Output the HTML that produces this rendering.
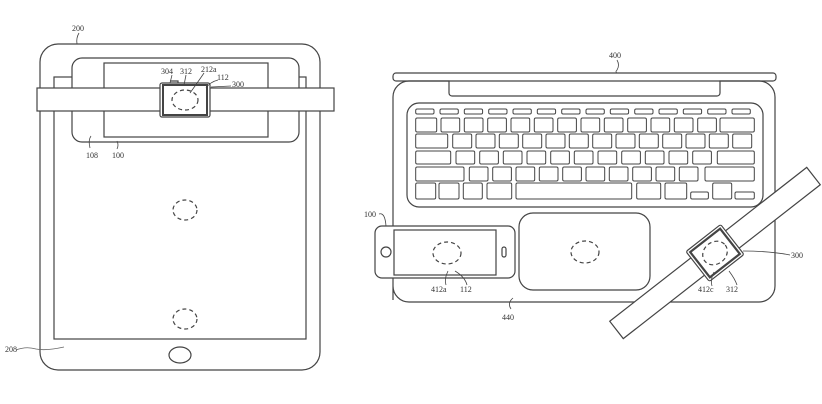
<!DOCTYPE html>
<html><head><meta charset="utf-8"><style>
html,body{margin:0;padding:0;background:#fff;}
svg{display:block}
text{font-family:"Liberation Serif",serif;font-size:8px;fill:#333}
</style></head><body>
<svg width="822" height="404" viewBox="0 0 822 404" xmlns="http://www.w3.org/2000/svg">
<g fill="none" stroke="#444" stroke-width="1.2">
<!-- Tablet -->
<rect x="40" y="44" width="280" height="326" rx="18"/>
<rect x="54" y="77" width="252" height="262"/>
<ellipse cx="180" cy="355" rx="11" ry="8"/>
<ellipse cx="185" cy="210" rx="12" ry="10" stroke-dasharray="4 3"/>
<ellipse cx="185" cy="319" rx="12" ry="10" stroke-dasharray="4 3"/>
<!-- phone on tablet -->
<rect x="72" y="58" width="227" height="84" rx="10" fill="#fff"/>
<rect x="104" y="63" width="164" height="74" fill="#fff"/>
<!-- band -->
<rect x="37" y="88" width="297" height="23" fill="#fff"/>
<rect x="160" y="83" width="50" height="34" rx="2" fill="#fff"/>
<rect x="163" y="85" width="44" height="30" stroke-width="2"/>
<ellipse cx="185" cy="100" rx="13" ry="10" stroke-dasharray="4 3"/>
<path d="M170 81h8v2" />
<!-- leaders left -->
<path d="M79 33 q-3 5 -2 11" stroke-width="0.8"/>
<path d="M16 350 q10 -4 20 -1 q10 2 28 -2" stroke-width="0.8" stroke="#666"/>
<path d="M90 148 q-2 -8 1 -12" stroke-width="0.8"/>
<path d="M117 149 q2 -4 0 -8" stroke-width="0.8"/>
<path d="M172 75 l-2 8" stroke-width="0.8"/>
<path d="M186 75 l-2 10" stroke-width="0.8"/>
<path d="M204 73 q-4 6 -14 20" stroke-width="0.8"/>
<path d="M218 80 q-8 2 -12 8" stroke-width="0.8"/>
<path d="M231 86 l-20 1" stroke-width="0.8"/>

<!-- Laptop -->
<rect x="393" y="73" width="383" height="8" rx="3"/>
<path d="M393 300 V97 a16 16 0 0 1 16 -16 H449 V93 a3 3 0 0 0 3 3 H717 a3 3 0 0 0 3 -3 V81 H759 a16 16 0 0 1 16 16 V286 a16 16 0 0 1 -16 16 H409 a16 16 0 0 1 -16 -16 Z" />
<rect x="407" y="103" width="356" height="104" rx="12"/>
<g id="keys" stroke-width="1"></g>
<rect x="519" y="213" width="131" height="77" rx="14"/>
<ellipse cx="585" cy="252" rx="14" ry="11" stroke-dasharray="4 3"/>
<!-- phone -->
<rect x="375" y="226" width="140" height="52" rx="7" fill="#fff"/>
<rect x="394" y="230" width="102" height="45"/>
<circle cx="386" cy="252" r="5"/>
<rect x="502" y="247" width="4" height="10" rx="2"/>
<ellipse cx="447" cy="253" rx="14" ry="11" stroke-dasharray="4 3"/>
<path d="M617 60 q3 5 0 10 q-2 2 0 3" stroke-width="0.8"/>
<path d="M379 214 q6 -2 7 12" stroke-width="0.8"/>
<path d="M446 285 q-2 -6 2 -14" stroke-width="0.8"/>
<path d="M467 285 q-2 -8 -12 -14" stroke-width="0.8"/>
<path d="M511 309 q-4 -6 2 -11" stroke-width="0.8"/>
<!-- strap & watch -->
<g transform="translate(715 253) rotate(-38)">
<rect x="-125" y="-11" width="250" height="22" fill="#fff"/>
<rect x="-22" y="-19" width="44" height="38" rx="2" fill="#fff"/>
<rect x="-19" y="-16" width="38" height="32" stroke-width="2.2"/>
<ellipse cx="0" cy="0" rx="13" ry="11" stroke-dasharray="4 3"/>
</g>
<path d="M790 255 q-20 -4 -47 -4" stroke-width="0.8"/>
<path d="M712 286 q-2 -6 2 -14" stroke-width="0.8"/>
<path d="M737 285 q-2 -6 -8 -14" stroke-width="0.8"/>
</g>
<g>
<text x="72" y="31">200</text>
<text x="161" y="74" font-size="7">304</text>
<text x="180" y="74" font-size="7">312</text>
<text x="201" y="72" font-size="7">212a</text>
<text x="217" y="80" font-size="7">112</text>
<text x="232" y="87" font-size="7">300</text>
<text x="86" y="158" font-size="7">108</text>
<text x="112" y="158" font-size="7">100</text>
<text x="5" y="352" font-size="7">208</text>
<text x="609" y="58">400</text>
<text x="364" y="217">100</text>
<text x="431" y="292">412a</text>
<text x="460" y="292">112</text>
<text x="502" y="320">440</text>
<text x="791" y="258">300</text>
<text x="698" y="292">412c</text>
<text x="726" y="292">312</text>
</g>
</svg>
<script>
(function(){
var g=document.getElementById('keys'),s='';
function k(x1,y1,x2,y2){s+='<rect x="'+x1.toFixed(1)+'" y="'+y1+'" width="'+(x2-x1).toFixed(1)+'" height="'+(y2-y1)+'" rx="1.5"/>';}
function Z(z){return 385+z/3;}
var i;
for(i=0;i<14;i++){k(Z(92+i*73),109,Z(92+i*73+55),114);}
k(Z(92),118,Z(155),132);for(i=0;i<12;i++)k(Z(168+i*70),118,Z(168+i*70+56),132);k(Z(1005),118,Z(1108),132);
k(Z(92),134,Z(188),148);for(i=0;i<13;i++)k(Z(203+i*70),134,Z(203+i*70+57),148);
k(Z(92),151,Z(197),164);for(i=0;i<11;i++)k(Z(213+i*71),151,Z(213+i*71+56),164);k(Z(997),151,Z(1108),164);
k(Z(92),167,Z(237),181);for(i=0;i<10;i++)k(Z(253+i*70),167,Z(253+i*70+56),181);k(Z(960),167,Z(1108),181);
k(Z(92),183,Z(152),199);k(Z(162),183,Z(222),199);k(Z(235),183,Z(292),199);k(Z(306),183,Z(380),199);
k(Z(393),183,Z(740),199);k(Z(755),183,Z(827),199);k(Z(840),183,Z(905),199);k(Z(917),192,Z(970),199);
k(Z(983),183,Z(1040),199);k(Z(1050),192,Z(1108),199);
g.innerHTML=s;
})();
</script>
</body></html>
